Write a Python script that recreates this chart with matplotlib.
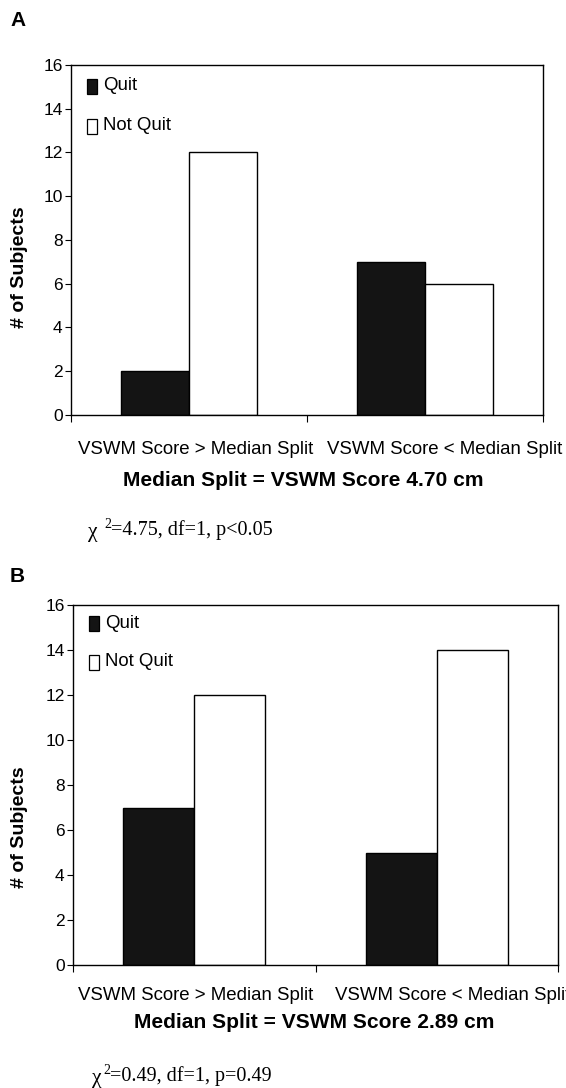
import numpy as np
import matplotlib.pyplot as plt

W, H = 566, 1088

categories = ["VSWM Score > Median Split", "VSWM Score < Median Split"]
series_names = ["Quit", "Not Quit"]

quit_a = [2, 7]
not_quit_a = [12, 6]
quit_b = [7, 5]
not_quit_b = [12, 14]

panels = [
    {"letter": "A", "quit": quit_a, "notquit": not_quit_a,
     "xlabel": "Median Split = VSWM Score 4.70 cm",
     "stat": ("\u03c7", "2", "=4.75, df=1, p<0.05"),
     "box": (71, 65, 543, 415), "barw": 0.287,
     "letter_y": 20, "tick_y": 450, "tick_x": [196, 445], "xlab_y": 480, "xlab_x": 303,
     "stat_y": 530, "stat_x": [88, 104, 111], "ylab_y": 267, "leg_y": [86, 126]},
    {"letter": "B", "quit": quit_b, "notquit": not_quit_b,
     "xlabel": "Median Split = VSWM Score 2.89 cm",
     "stat": ("\u03c7", "2", "=0.49, df=1, p=0.49"),
     "box": (73, 605, 558, 965), "barw": 0.293,
     "letter_y": 577, "tick_y": 995, "tick_x": [196, 453], "xlab_y": 1022, "xlab_x": 314,
     "stat_y": 1076, "stat_x": [92, 103, 110], "ylab_y": 827, "leg_y": [623, 662]},
]

plt.rcParams['font.family'] = ['Liberation Sans', 'DejaVu Sans']

fig = plt.figure(figsize=(W / 100, H / 100), dpi=100)
fig.patch.set_facecolor("white")

dark = "#141414"


def fx(px):
    return px / W


def fy(py):
    return 1 - py / H


for p in panels:
    x0, y0, x1, y1 = p["box"]
    ax = fig.add_axes([fx(x0), fy(y1), (x1 - x0) / W, (y1 - y0) / H])
    x = np.arange(len(categories))
    bw = p["barw"]
    ax.bar(x - bw / 2, p["quit"], bw, color=dark, edgecolor="black", linewidth=1.0)
    ax.bar(x + bw / 2, p["notquit"], bw, color="white", edgecolor="black", linewidth=1.0)

    ax.set_xlim(-0.5, 1.5)
    ax.set_ylim(0, 16)
    ax.set_yticks(range(0, 17, 2))
    ax.tick_params(axis='y', labelsize=12.5, length=4, width=0.8, pad=2, colors="black")
    ax.set_xticks([-0.5, 0.5, 1.5])
    ax.set_xticklabels([])
    ax.tick_params(axis='x', which='major', length=5, width=0.8)
    for s in ax.spines.values():
        s.set_linewidth(1.0)
        s.set_color("black")

    # category labels (sit a bit right of the bar groups in the original)
    for tx, cat in zip(p["tick_x"], categories):
        fig.text(fx(tx), fy(p["tick_y"]), cat, ha="center", va="center", fontsize=13.4)

    # legend: small upright boxes
    for fc, name, ly in zip([dark, "white"], series_names, p["leg_y"]):
        fig.patches.append(plt.Rectangle((fx(x0 + 16), fy(ly + 7.5)), 10 / W, 15 / H,
                                         transform=fig.transFigure, facecolor=fc,
                                         edgecolor="black", linewidth=0.9))
        fig.text(fx(x0 + 32), fy(ly), name, ha="left", va="center", fontsize=13.4)

    fig.text(fx(10), fy(p["letter_y"]), p["letter"], ha="left", va="center",
             fontsize=15, fontweight="bold")
    fig.text(fx(p["xlab_x"]), fy(p["xlab_y"]), p["xlabel"], ha="center", va="center",
             fontsize=15.1, fontweight="bold")

    chi, sup, rest = p["stat"]
    sx = p["stat_x"]
    fig.text(fx(sx[0]), fy(p["stat_y"] + 2), chi, ha="left", va="center",
             fontsize=15.5, family="Liberation Serif")
    fig.text(fx(sx[1]), fy(p["stat_y"] - 5), sup, ha="left", va="center",
             fontsize=10, family="Liberation Serif")
    fig.text(fx(sx[2]), fy(p["stat_y"]), rest, ha="left", va="center",
             fontsize=14.5, family="Liberation Serif")

    fig.text(fx(20), fy(p["ylab_y"]), "# of Subjects", ha="center", va="center",
             rotation=90, fontsize=14, fontweight="bold")

fig.savefig("out.png", dpi=100, facecolor="white")
